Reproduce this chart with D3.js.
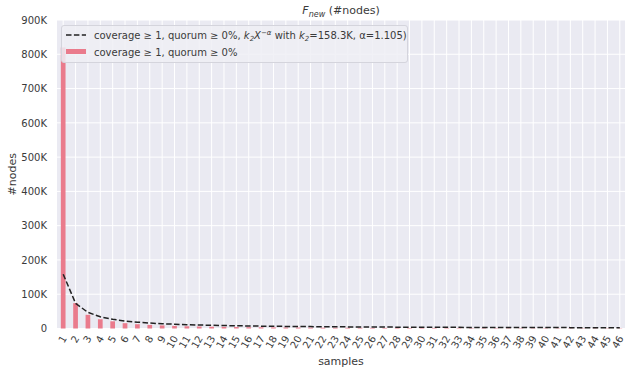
<!DOCTYPE html>
<html>
<head>
<meta charset="utf-8">
<script src="https://cdn.jsdelivr.net/npm/d3@7"></script>
<style>
  html, body { margin: 0; padding: 0; background: #ffffff; }
  svg { display: block; font-family: "DejaVu Sans", sans-serif; }
</style>
</head>
<body>
<svg id="chart" width="625" height="368"></svg>
<script>
// Sample counts 1..46 on the x axis
const samples = d3.range(1, 47);
// Number of new nodes per sample count (coverage >= 1, quorum >= 0%)
const newNodes = [
  820000, 74000, 40000, 27000, 21000, 15500, 12500, 10500, 9000, 7500,
  6500, 5800, 5200, 4700, 4200, 3800, 3500, 3200, 2900, 2700,
  2500, 2300, 2200, 2000, 1900, 1800, 1700, 1600, 1500, 1450,
  1400, 1300, 1250, 1200, 1150, 1100, 1050, 1000, 980, 950,
  920, 900, 870, 850, 820, 800
];
// Power-law fit parameters stated in the legend
const k2 = 158300;
const alpha = 1.105;
const yTicks = [0, 100000, 200000, 300000, 400000, 500000, 600000, 700000, 800000, 900000];
const yTickLabels = ["0", "100K", "200K", "300K", "400K", "500K", "600K", "700K", "800K", "900K"];

const svg = d3.select("#chart");
const margin = { left: 57, right: 626, top: 20, bottom: 328.5 };

const x = d3.scaleBand()
  .domain(samples)
  .range([margin.left, margin.right])
  .paddingInner(0)
  .paddingOuter(0);
const bw = x.bandwidth();
const cx = d => x(d) + bw / 2;

const y = d3.scaleLinear().domain([0, 900000]).range([margin.bottom, margin.top]);

const plotW = margin.right - margin.left;
const plotH = margin.bottom - margin.top;

// Plot background
svg.append("rect")
  .attr("x", margin.left).attr("y", margin.top)
  .attr("width", plotW).attr("height", plotH)
  .attr("fill", "#eaeaf2");

// Grid lines
const grid = svg.append("g").attr("stroke", "#ffffff").attr("stroke-width", 1);
grid.selectAll("line.h").data(yTicks).join("line")
  .attr("class", "h")
  .attr("x1", margin.left).attr("x2", margin.right)
  .attr("y1", d => y(d)).attr("y2", d => y(d));
grid.selectAll("line.v").data(samples).join("line")
  .attr("class", "v")
  .attr("x1", d => cx(d)).attr("x2", d => cx(d))
  .attr("y1", margin.top).attr("y2", margin.bottom);

// Bars
const barW = bw * 0.38;
svg.append("g").selectAll("rect").data(samples).join("rect")
  .attr("x", (d) => cx(d) - barW / 2)
  .attr("y", (d, i) => y(newNodes[i]))
  .attr("width", barW)
  .attr("height", (d, i) => y(0) - y(newNodes[i]))
  .attr("fill", "#ea7b8c");

// Fitted curve k2 * X^-alpha
const fit = samples.map(s => [cx(s), y(k2 * Math.pow(s, -alpha))]);
svg.append("path")
  .attr("d", d3.line()(fit))
  .attr("fill", "none")
  .attr("stroke", "#222222")
  .attr("stroke-width", 1.5)
  .attr("stroke-dasharray", "5.5,2.4");

// Y axis
const yAxis = d3.axisLeft(y).tickValues(yTicks)
  .tickFormat((d, i) => yTickLabels[i]).tickSize(0).tickPadding(10);
const gy = svg.append("g").attr("transform", `translate(${margin.left},0)`).call(yAxis);
gy.select(".domain").remove();
gy.selectAll("text").attr("font-size", 10).attr("fill", "#3a3a3a")
  .attr("font-family", "DejaVu Sans, sans-serif");

// X axis
const xAxis = d3.axisBottom(x).tickSize(0).tickPadding(0);
const gx = svg.append("g").attr("transform", `translate(0,${margin.bottom})`).call(xAxis);
gx.select(".domain").remove();
gx.selectAll("text")
  .attr("font-size", 10).attr("fill", "#3a3a3a")
  .attr("font-family", "DejaVu Sans, sans-serif")
  .attr("text-anchor", "end")
  .attr("dy", null).attr("y", 0)
  .attr("transform", "translate(1,8) rotate(-60)")
  .attr("dominant-baseline", "central");

// Axis titles
svg.append("text")
  .attr("x", (margin.left + 625) / 2).attr("y", 365)
  .attr("text-anchor", "middle").attr("font-size", 11).attr("fill", "#3a3a3a")
  .text("samples");
svg.append("text")
  .attr("transform", `translate(16,${(margin.top + margin.bottom) / 2}) rotate(-90)`)
  .attr("text-anchor", "middle").attr("font-size", 11).attr("fill", "#3a3a3a")
  .text("#nodes");

// Title
const title = svg.append("text")
  .attr("x", (margin.left + 625) / 2).attr("y", 14)
  .attr("text-anchor", "middle").attr("font-size", 11).attr("fill", "#3a3a3a");
title.append("tspan").attr("font-style", "italic").text("F");
title.append("tspan").attr("font-style", "italic").attr("font-size", 8).attr("dy", 2.5).text("new");
title.append("tspan").attr("dy", -2.5).text(" (#nodes)");

// Legend
const lg = svg.append("g");
lg.append("rect")
  .attr("x", 61.5).attr("y", 25.5).attr("width", 346).attr("height", 37)
  .attr("rx", 2.5).attr("fill", "#eeeef4").attr("fill-opacity", 0.85)
  .attr("stroke", "#d4d4dc").attr("stroke-width", 1);
lg.append("line")
  .attr("x1", 66).attr("x2", 86).attr("y1", 35).attr("y2", 35)
  .attr("stroke", "#222222").attr("stroke-width", 1.5).attr("stroke-dasharray", "5.5,2.4");
lg.append("rect")
  .attr("x", 66).attr("y", 49).attr("width", 20).attr("height", 5)
  .attr("fill", "#ea7b8c");
const t1 = lg.append("text").attr("x", 94).attr("y", 38.5)
  .attr("font-size", 10).attr("fill", "#3a3a3a");
t1.append("tspan").text("coverage  \u2265 1, quorum  \u2265 0%, ");
t1.append("tspan").attr("font-style", "italic").text("k");
t1.append("tspan").attr("font-style", "italic").attr("font-size", 7).attr("dy", 2).text("2");
t1.append("tspan").attr("font-style", "italic").attr("dy", -2).text("X");
t1.append("tspan").attr("font-style", "italic").attr("font-size", 7).attr("dy", -4).text("\u2212\u03b1");
t1.append("tspan").attr("dy", 4).text(" with ");
t1.append("tspan").attr("font-style", "italic").text("k");
t1.append("tspan").attr("font-style", "italic").attr("font-size", 7).attr("dy", 2).text("2");
t1.append("tspan").attr("dy", -2).text("=158.3K, \u03b1=1.105)");
lg.append("text").attr("x", 94).attr("y", 55.5)
  .attr("font-size", 10).attr("fill", "#3a3a3a")
  .text("coverage  \u2265 1, quorum  \u2265 0%");
</script>
</body>
</html>
